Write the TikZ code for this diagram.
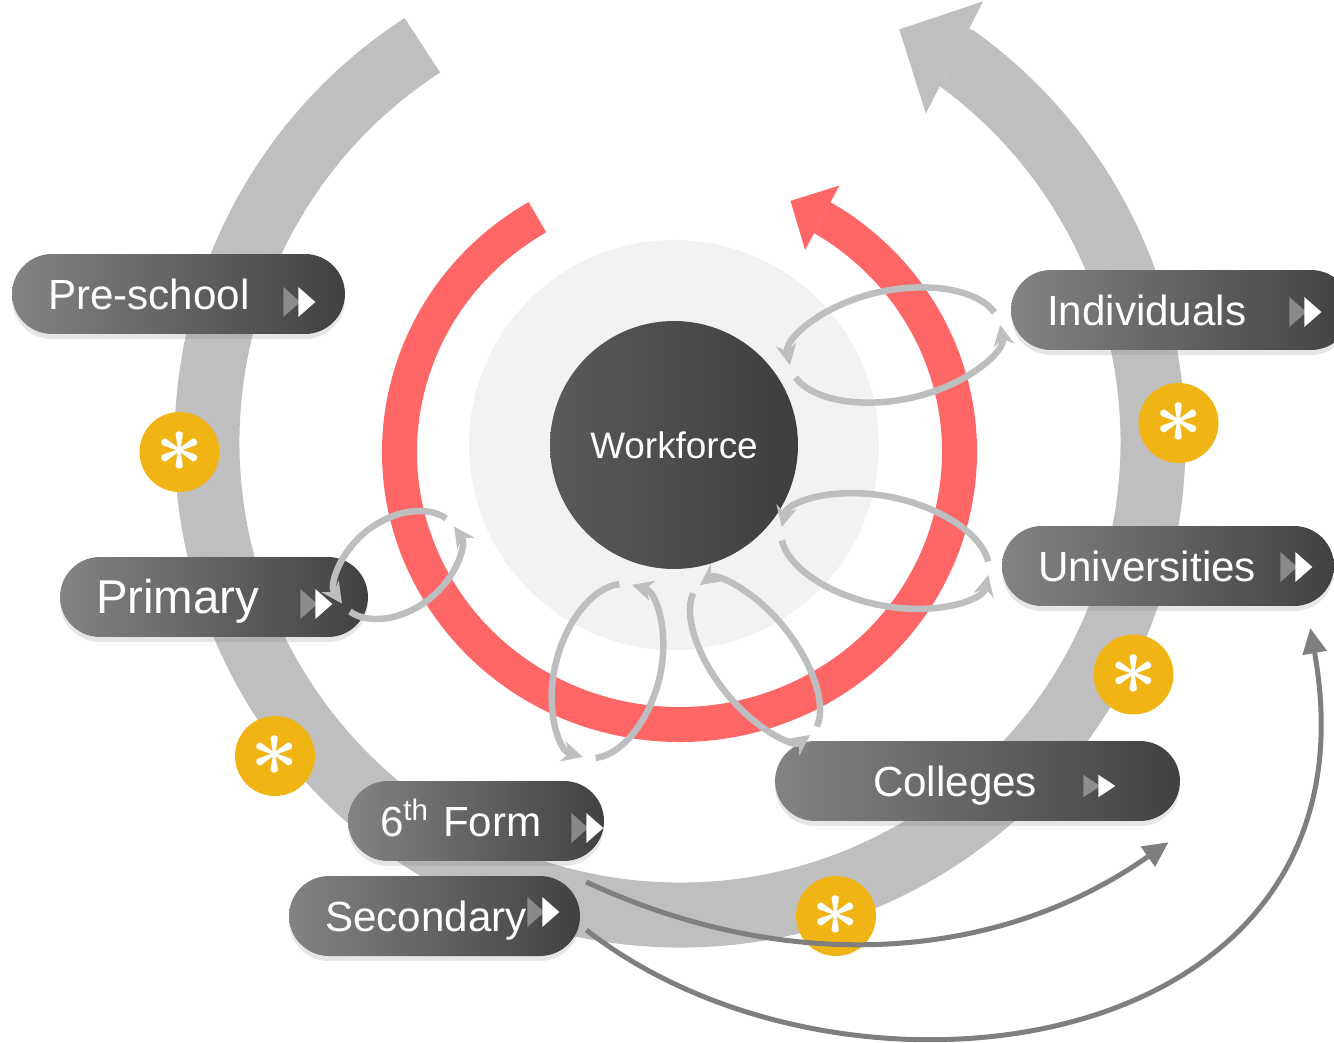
\documentclass[tikz,border=0pt]{standalone}
\usepackage{fontspec}
\setmainfont{Liberation Sans}
\usepackage{graphicx}
\usepackage{tikz}
\usetikzlibrary{arrows.meta, shadows}
\usepackage{xcolor}

\definecolor{ringgray}{HTML}{BFBFBF}
\definecolor{ringred}{HTML}{FF6666}
\definecolor{haze}{HTML}{F2F2F2}
\definecolor{pillL}{HTML}{838383}
\definecolor{pillR}{HTML}{414141}
\definecolor{hubL}{HTML}{5A5A5A}
\definecolor{hubR}{HTML}{3E3E3E}
\definecolor{dotyellow}{HTML}{F0B414}
\definecolor{loopgray}{HTML}{BDBEC0}
\definecolor{linkgray}{HTML}{7F7F7F}

\newcommand{\starmark}{\scalebox{4.8}{\boldmath$\ast$}}

\begin{document}
\begin{tikzpicture}[
    x=0.02cm, y=0.02cm,
    pill/.style={rectangle, rounded corners=0.8cm, minimum height=1.6cm, text width=#1, align=left, inner xsep=0.72cm, inner ysep=0pt, text height=17.2pt, text depth=0pt, left color=pillL, right color=pillR, text=white, font=\fontsize{24}{28}\selectfont, drop shadow={opacity=0.2, shadow xshift=0pt, shadow yshift=-0.1cm}},
    hub/.style={circle, minimum size=4.96cm, inner sep=0pt, left color=hubL, right color=hubR, text=white, font=\fontsize{21}{25}\selectfont},
    dot/.style={circle, minimum size=1.6cm, inner sep=0pt, fill=dotyellow, text=white},
    bigarc/.style={line width=1.3cm, draw=ringgray, -{Triangle[length=1.24cm, width=2.52cm, line width=0pt]}},
    redarc/.style={line width=0.7cm, draw=ringred, -{Triangle[length=0.72cm, width=1.46cm, line width=0pt]}},
    loopline/.style={line width=0.13cm, draw=loopgray, -{Stealth[length=0.42cm, width=0.42cm, line width=0pt]}},
    link/.style={line width=0.1cm, draw=linkgray, -{Triangle[length=0.5cm, width=0.5cm, line width=0pt]}},
    nexticon/.pic={
        \fill[white, fill opacity=0.35] (0,-15) -- (17,0) -- (0,15) -- cycle;
        \fill[white] (15,-15) -- (32,0) -- (15,15) -- cycle;
    }
]

\useasboundingbox (0,0) rectangle (1334,1042);

\coordinate (core) at (674,597);
\fill[haze] (core) circle[radius=205];

\draw[bigarc] (680,600) ++(123:473) arc[start angle=123, end angle=414, radius=473] -- ++(153:66);
\draw[redarc] (679.5,590) ++(120.5:280 and 272.5) arc[start angle=120.5, end angle=418.5, x radius=280, y radius=272.5] -- ++(152:40);

\node[hub] (wf) at (core) {Workforce};

\node[pill=5.22cm] (pre) at (178.5,748) {Pre-school};
\node[pill=5.36cm] (ind) at (1181,732) {Individuals};
\node[pill=5.2cm] (uni) at (1168,476) {Universities};
\node[pill=4.72cm, font=\fontsize{27}{32}\selectfont, text height=19.3pt] (pri) at (214,445) {Primary};
\node[pill=6.66cm] (col) at (977.5,261) {\hspace*{1.24cm}Colleges};
\node[pill=3.68cm] (six) at (476,221) {\hspace*{-0.08cm}6\textsuperscript{th} Form};
\node[pill=4.38cm] (sec) at (434.5,126) {Secondary};

\pic at ([shift={(-62,-8)}]pre.east) {nexticon};
\pic at ([shift={(-62,-2)}]ind.east) {nexticon};
\pic at ([shift={(-54,-1)}]uni.east) {nexticon};
\pic at ([shift={(-68,-7)}]pri.east) {nexticon};
\pic at ([shift={(-33,-7)}]six.east) {nexticon};
\pic at ([shift={(-53,4)}]sec.east) {nexticon};
\pic[yscale=0.75] at ([shift={(-97,-5)}]col.east) {nexticon};

\node[dot] (d1) at (179.5,590) {\starmark};
\node[dot] (d2) at (1178.5,619) {\starmark};
\node[dot] (d3) at (1133.5,367.5) {\starmark};
\node[dot] (d4) at (275,286) {\starmark};
\node[dot] (d5) at (836,126) {\starmark};

\draw[link] ([shift={(6,34)}]sec.east) .. controls +(-25:215) and +(215:215) .. ([shift={(-12,-21)}]col.south east);
\draw[link] ([shift={(6,-14)}]sec.east) .. controls +(-38:330) and +(-80:440) .. ([shift={(-24,-22)}]uni.south east);

\coordinate (loopP) at (398,477);
\coordinate (loopS) at (607.5,371);
\coordinate (loopC) at (755,382);
\coordinate (loopU) at (885,491);
\coordinate (loopI) at (895,697);

\begin{scope}[shift={(loopP)}, rotate=34.5]
    \draw[loopline] (14:68 and 46) arc[start angle=14, end angle=180, x radius=68, y radius=46];
    \draw[loopline] (194:68 and 46) arc[start angle=194, end angle=360, x radius=68, y radius=46];
\end{scope}
\begin{scope}[shift={(loopS)}, rotate=74]
    \draw[loopline] (14:89.5 and 52) arc[start angle=14, end angle=180, x radius=89.5, y radius=52];
    \draw[loopline] (194:89.5 and 52) arc[start angle=194, end angle=360, x radius=89.5, y radius=52];
\end{scope}
\begin{scope}[shift={(loopC)}, rotate=126.3]
    \draw[loopline] (14:93 and 43) arc[start angle=14, end angle=180, x radius=93, y radius=43];
    \draw[loopline] (194:93 and 43) arc[start angle=194, end angle=360, x radius=93, y radius=43];
\end{scope}
\begin{scope}[shift={(loopU)}, rotate=166.9]
    \draw[loopline] (14:106 and 54) arc[start angle=14, end angle=180, x radius=106, y radius=54];
    \draw[loopline] (194:106 and 54) arc[start angle=194, end angle=360, x radius=106, y radius=54];
\end{scope}
\begin{scope}[shift={(loopI)}, rotate=190.8]
    \draw[loopline] (14:107 and 55) arc[start angle=14, end angle=180, x radius=107, y radius=55];
    \draw[loopline] (194:107 and 55) arc[start angle=194, end angle=360, x radius=107, y radius=55];
\end{scope}

\end{tikzpicture}
\end{document}
